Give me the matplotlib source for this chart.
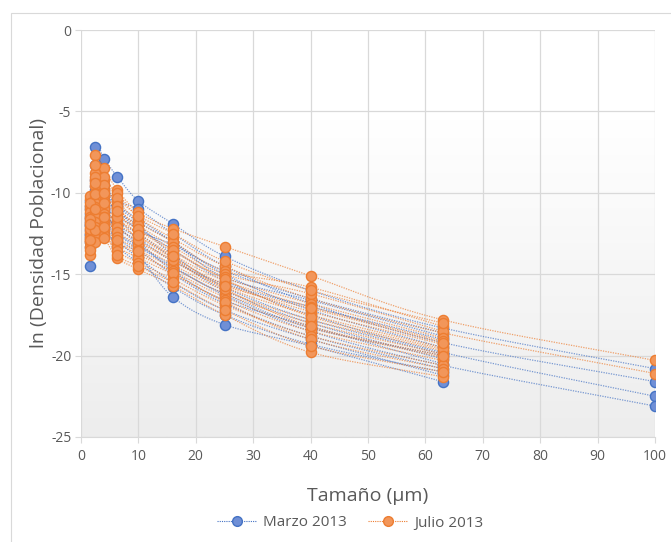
import numpy as np
import matplotlib
matplotlib.use("Agg")
import matplotlib.pyplot as plt
from matplotlib.lines import Line2D
from matplotlib.patches import Rectangle

nan = np.nan

# Particle size classes (µm)
tamano = [1.6, 2.5, 4.0, 6.3, 10, 16, 25, 40, 63, 100]

# ln(population density) per sample, March 2013
marzo_2013 = [
    [-12.0, -7.2, -7.9, -9.0, -10.5, -11.9, -13.9, -16.0, -18.3, -20.8],
    [-14.5, -8.3, -9.5, -10.5, -11.0, -12.5, -14.5, -16.8, -19.2, -21.6],
    [-11.5, -10.0, -10.8, -11.5, -12.2, -13.5, -15.4, -17.5, -19.8, -22.5],
    [-12.8, -11.2, -11.4, -12.0, -13.2, -14.5, -16.3, -18.5, -20.6, -23.1],
    [-10.8, -9.2, -9.8, -10.8, -11.8, -13.0, -15.0, -17.2, -19.5, nan],
    [-11.0, -10.5, -11.0, -11.8, -12.5, -14.0, -16.0, -18.0, -20.2, nan],
    [-12.3, -11.5, -11.8, -12.5, -13.5, -15.0, -16.8, -18.8, -20.8, nan],
    [-13.0, -12.2, -12.5, -13.0, -14.0, -15.5, -17.2, -19.0, -21.2, nan],
    [-11.8, -10.8, -10.2, -11.2, -12.0, -13.8, -15.8, -17.8, -19.9, nan],
    [-12.5, -11.8, -12.0, -12.8, -13.8, -16.4, -18.1, -19.4, -21.6, nan],
    [-10.5, -9.8, -10.5, -11.0, -12.3, -13.2, -14.8, -16.5, -18.6, nan],
    [-11.3, -10.2, -11.2, -12.2, -13.0, -14.8, -16.6, -18.2, -20.5, nan],
    [-12.0, -11.0, -11.5, -12.0, -12.8, -14.2, -15.6, -17.0, -19.0, nan],
    [-13.3, -12.5, -12.2, -13.3, -14.3, -15.8, -17.5, -19.3, -21.0, nan],
    [-11.6, -9.6, -10.0, -10.8, -11.6, -13.0, -15.2, -16.6, -18.8, nan],
    [-12.6, -11.4, -11.0, -12.4, -13.3, -14.6, -16.2, -18.3, -20.0, nan],
]

# ln(population density) per sample, July 2013
julio_2013 = [
    [-10.4, -7.7, -8.5, -9.8, -11.2, -12.2, -13.3, -15.1, -17.8, -20.3],
    [-11.0, -8.8, -9.2, -10.0, -11.5, -12.8, -14.5, -16.5, -18.6, -21.1],
    [-10.2, -9.2, -9.8, -10.5, -11.8, -13.0, -14.8, -15.8, -18.2, nan],
    [-10.8, -9.6, -10.2, -11.0, -12.0, -13.3, -15.0, -16.2, -18.5, nan],
    [-11.2, -10.0, -10.5, -11.3, -12.3, -13.6, -15.2, -16.8, -18.9, nan],
    [-11.5, -10.3, -10.8, -11.6, -12.5, -13.8, -15.4, -17.0, -19.1, nan],
    [-11.8, -10.6, -11.0, -11.9, -12.7, -14.0, -15.6, -17.3, -19.3, nan],
    [-12.1, -10.9, -11.3, -12.1, -13.0, -14.2, -15.8, -17.5, -19.5, nan],
    [-12.4, -11.2, -11.5, -12.4, -13.2, -14.4, -16.0, -17.8, -19.7, nan],
    [-12.7, -11.5, -11.8, -12.7, -13.5, -14.6, -16.2, -18.0, -19.9, nan],
    [-13.0, -11.8, -12.0, -13.0, -13.8, -14.8, -16.4, -18.3, -20.1, nan],
    [-13.3, -12.1, -12.3, -13.3, -14.0, -15.0, -16.6, -18.5, -20.3, nan],
    [-13.8, -12.5, -12.6, -13.6, -14.3, -15.3, -16.9, -18.8, -20.6, nan],
    [-12.9, -13.0, -12.8, -14.0, -14.7, -15.7, -17.5, -19.8, -21.3, nan],
    [-10.6, -8.3, -9.0, -10.3, -11.4, -12.5, -14.2, -16.0, -18.0, nan],
    [-11.6, -9.0, -9.5, -10.8, -12.2, -13.5, -15.3, -17.6, -19.6, nan],
    [-12.2, -10.1, -11.5, -11.5, -12.9, -14.1, -15.9, -18.2, -20.0, nan],
    [-12.9, -11.0, -10.6, -12.9, -13.6, -14.9, -16.7, -19.0, -20.8, nan],
    [-13.5, -12.3, -12.1, -13.8, -14.5, -15.5, -17.2, -19.4, -21.0, nan],
    [-11.9, -9.4, -10.0, -11.1, -12.6, -13.9, -15.7, -17.1, -19.2, nan],
]

series_names = ["Marzo 2013", "Julio 2013"]
line_colors = ["#4472C4", "#ED7D31"]
face_colors = ["#6F8FD6", "#F2965A"]

x_ticks = [0, 10, 20, 30, 40, 50, 60, 70, 80, 90, 100]
y_ticks = [0, -5, -10, -15, -20, -25]

plt.rcParams["font.family"] = ["Open Sans", "DejaVu Sans"]
plt.rcParams["axes.unicode_minus"] = False


def smooth(xs, ys, n=24):
    """Uniform Catmull-Rom curve through the points (smoothed line)."""
    pts = np.column_stack([xs, ys])
    if len(pts) < 3:
        return pts[:, 0], pts[:, 1]
    ext = np.vstack([2 * pts[0] - pts[1], pts, 2 * pts[-1] - pts[-2]])
    out = []
    t = np.linspace(0, 1, n, endpoint=False)[:, None]
    for i in range(1, len(ext) - 2):
        p0, p1, p2, p3 = ext[i - 1], ext[i], ext[i + 1], ext[i + 2]
        seg = 0.5 * ((2 * p1) + (-p0 + p2) * t
                     + (2 * p0 - 5 * p1 + 4 * p2 - p3) * t ** 2
                     + (-p0 + 3 * p1 - 3 * p2 + p3) * t ** 3)
        out.append(seg)
    out.append(pts[-1][None, :])
    out = np.vstack(out)
    return out[:, 0], out[:, 1]


fig = plt.figure(figsize=(6.71, 5.42), dpi=100)
fig.patch.set_facecolor("white")

# thin chart-area border
fig.add_artist(Rectangle((11 / 671, -0.05), 1.2, 1 - 13 / 542 + 0.05,
                         transform=fig.transFigure, fill=False,
                         edgecolor="#D9D9D9", linewidth=0.8))

ax = fig.add_axes([81 / 671, 1 - 437 / 542, 574 / 671, 407 / 542])
ax.set_xlim(0, 100)
ax.set_ylim(-25, 0)

# plot-area gradient (white at top, light grey at bottom)
grad = np.linspace(0, 1, 256)[:, None]
grad = np.clip((grad - 0.22) / 0.78, 0, 1)
cmap = matplotlib.colors.LinearSegmentedColormap.from_list("bg", ["#FFFFFF", "#EDEDED"])
ax.imshow(grad, extent=(0, 100, -25, 0), aspect="auto", cmap=cmap,
          vmin=0, vmax=1, zorder=0, origin="upper")

ax.set_xticks(x_ticks)
ax.set_yticks(y_ticks)
ax.grid(True, color="#D9D9D9", linewidth=0.9, zorder=1)
for side in ["top", "right", "left"]:
    ax.spines[side].set_visible(False)
ax.spines["bottom"].set_color("#D9D9D9")
ax.tick_params(axis="both", colors="#D9D9D9", length=4, width=0.8,
               labelcolor="#595959", labelsize=10)
ax.tick_params(axis="x", pad=5)
ax.tick_params(axis="y", pad=3)

x = np.array(tamano, dtype=float)
for data, lc, fc, z in [(marzo_2013, line_colors[0], face_colors[0], 3),
                        (julio_2013, line_colors[1], face_colors[1], 5)]:
    for row in data:
        y = np.array(row, dtype=float)
        m = ~np.isnan(y)
        sx, sy = smooth(x[m], y[m])
        ax.plot(sx, sy, color=lc, linewidth=0.9, linestyle=(0, (1, 1)),
                alpha=0.7, zorder=z)
    for row in data:
        y = np.array(row, dtype=float)
        m = ~np.isnan(y)
        ax.plot(x[m], y[m], linestyle="none", marker="o", markersize=7.3,
                markerfacecolor=fc, markeredgecolor=lc, markeredgewidth=1.0,
                zorder=z + 1)

ax.set_xlabel("Tamaño (µm)", fontsize=14, color="#595959", labelpad=16)
ax.set_ylabel("ln (Densidad Poblacional)", fontsize=14, color="#595959", labelpad=2)

handles = [Line2D([0], [0], color=lc, linewidth=0.8, linestyle=(0, (1, 1)),
                  marker="o", markersize=7, markerfacecolor=fc,
                  markeredgecolor=lc)
           for lc, fc in zip(line_colors, face_colors)]
fig.legend(handles, series_names, loc="center", bbox_to_anchor=(350 / 671, 1 - 523 / 542),
           ncol=2, frameon=False, fontsize=11, labelcolor="#595959",
           handlelength=2.6, columnspacing=1.4, handletextpad=0.4)

fig.savefig("out.png", dpi=100, facecolor="white")
